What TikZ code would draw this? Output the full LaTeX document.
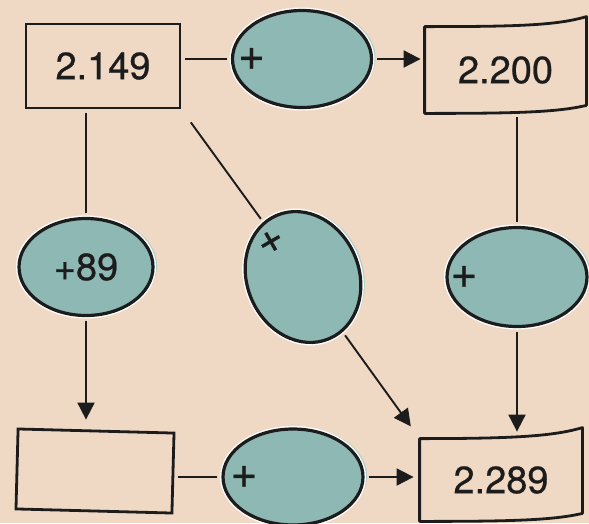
\documentclass[tikz,border=0pt]{standalone}
\usepackage{fontspec}
\setmainfont{TeX Gyre Heros}[FakeBold=0.6]
\usetikzlibrary{shapes.geometric,positioning,arrows.meta}
\definecolor{paper}{RGB}{239,217,197}
\definecolor{opfill}{RGB}{141,184,179}
\definecolor{opshade}{RGB}{174,207,202}
\definecolor{ink}{RGB}{28,28,28}
\tikzset{
  numbox/.style={draw=ink,line width=2.8pt,inner sep=0pt,text=ink,
    minimum width=154pt,minimum height=84pt,font=\fontsize{38}{40}\selectfont},
  curlbox/.style={numbox,draw=none},
  curl/.style={draw=ink,line width=2.8pt,line join=round},
  opnode/.style={ellipse,draw=ink,line width=3.2pt,fill=opfill,inner sep=0pt,text=ink,
    preaction={fill=opshade,transform canvas={shift={(4pt,1.5pt)}}},
    preaction={draw=white,line width=6pt},
    font=\fontsize{38}{40}\selectfont},
  opsign/.style={inner sep=0pt,text=ink,font=\fontsize{46}{48}\selectfont},
  link/.style={draw=ink,line width=1.9pt,shorten <=4pt,shorten >=4pt},
  flow/.style={link,-{Triangle[length=17pt,width=17pt]}},
}
\begin{document}
\begin{tikzpicture}[x=1pt,y=-1pt]
\fill[paper] (0,0) rectangle (589,523);
\useasboundingbox (0,0) rectangle (589,523);

% number boxes
\node[numbox] (a) at (103,66) {2.149};
\node[curlbox,minimum width=159pt] (b) at (505.5,70) {2.200};
\node[numbox,rotate=-1.5,minimum width=156pt,minimum height=80pt] (c) at (95,471) {};
\node[curlbox,minimum width=160pt,minimum height=80pt] (d) at (501,480) {2.289};

\draw[curl] ([yshift=8pt]b.south east) .. controls +(-30pt,-7pt) and +(90pt,0pt) .. (b.south west)
  -- (b.north west) .. controls +(90pt,0pt) and +(-30pt,-9pt) .. ([yshift=10pt]b.north east) -- cycle;
\draw[curl] ([yshift=8pt]d.south east) .. controls +(-30pt,-7pt) and +(90pt,0pt) .. (d.south west)
  -- (d.north west) .. controls +(90pt,0pt) and +(-30pt,-9pt) .. ([yshift=11pt]d.north east) -- cycle;

% operation ellipses
\node[opnode,minimum width=139pt,minimum height=97pt] (p1) at (302,59) {};
\node[opsign,right=7pt of p1.west] (s1) {+};
\node[opnode,minimum width=134pt,minimum height=97pt] (p2) at (86,267) {+89};
\node[opnode,minimum width=112pt,minimum height=134pt,rotate=23] (p3) at (303,277) {};
\node[opsign,rotate=30,font=\fontsize{44}{44}\selectfont] (s3) at (271,242) {+};
\node[opnode,minimum width=140pt,minimum height=99pt] (p4) at (517,277) {};
\node[opsign,right=5pt of p4.west] (s4) {+};
\node[opnode,minimum width=140pt,minimum height=96pt] (p5) at (293,477) {};
\node[opsign,right=9pt of p5.west] (s5) {+};

% connectors
\draw[link] (p1.west -| a.east) -- (p1.west);
\draw[flow] (p1.east) -- (p1.east -| b.west);
\draw[link] (p2.north |- a.south) -- (p2.north);
\draw[flow,shorten >=10pt] (p2.south) -- (p2.south |- c.north);
\draw[link,shorten <=16pt] (a.south east) -- (p3);
\draw[flow,shorten >=15pt] (p3) -- (d.north west);
\draw[link] (p4.north |- b.south) -- (p4.north);
\draw[flow,shorten >=7pt] (p4.south) -- (p4.south |- d.north);
\draw[link] (p5.west -| c.east) -- (p5.west);
\draw[flow,shorten >=6pt] (p5.east) -- (p5.east -| d.west);

\end{tikzpicture}
\end{document}
